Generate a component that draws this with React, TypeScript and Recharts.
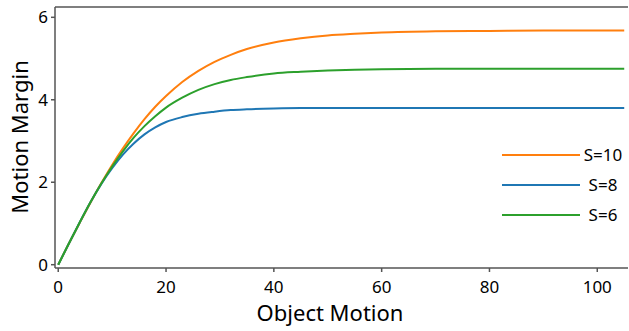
import React from 'react';
import { LineChart, Line, XAxis, YAxis, ReferenceLine } from 'recharts';

const xValues = [0, 2, 4, 6, 8, 10, 12, 14, 16, 18, 20, 23, 26, 29, 32, 35, 40, 45, 50, 55, 60, 70, 80, 90, 100, 105];
const s10 = [0, 0.52, 1.02, 1.51, 1.98, 2.42, 2.82, 3.19, 3.53, 3.83, 4.09, 4.43, 4.70, 4.92, 5.09, 5.23, 5.39, 5.49, 5.56, 5.60, 5.63, 5.66, 5.67, 5.68, 5.68, 5.68];
const s8 = [0, 0.52, 1.03, 1.52, 1.96, 2.34, 2.67, 2.94, 3.16, 3.33, 3.46, 3.58, 3.66, 3.71, 3.75, 3.77, 3.79, 3.80, 3.80, 3.80, 3.80, 3.80, 3.80, 3.80, 3.80, 3.80];
const s6 = [0, 0.52, 1.03, 1.52, 1.97, 2.38, 2.75, 3.08, 3.36, 3.60, 3.81, 4.05, 4.24, 4.38, 4.48, 4.55, 4.64, 4.68, 4.71, 4.73, 4.74, 4.75, 4.75, 4.75, 4.75, 4.75];

const xTicks = [0, 20, 40, 60, 80, 100];
const yTicks = [0, 2, 4, 6];
const yDomain: [number, number] = [-0.08, 6.25];
const xDomain: [number, number] = [-0.6, 105.7];

const seriesNames = ['S=10', 'S=8', 'S=6'];
const seriesKeys = ['s10', 's8', 's6'];
const seriesColors = ['#ff7f0e', '#1f77b4', '#2ca02c'];

const data = xValues.map((x, i) => ({ x, s10: s10[i], s8: s8[i], s6: s6[i] }));

const FONT = '"Comic Sans MS", "Noto Sans", sans-serif';
const AXIS = '#555555';

const LegendBox = () => (
  <svg width={129} height={80} style={{ display: 'block', overflow: 'visible' }}>
    {seriesNames.map((name, i) => (
      <g key={name}>
        <line x1={2} x2={80} y1={10 + i * 30} y2={10 + i * 30} stroke={seriesColors[i]} strokeWidth={2} />
        <text x={103} y={10 + i * 30} dy="0.35em" textAnchor="middle" fontSize={17} fontFamily={FONT} fill="#000">
          {name}
        </text>
      </g>
    ))}
  </svg>
);

export default function App() {
  return (
    <div style={{ position: 'absolute', left: 0, top: 0, width: 629, height: 331, background: '#fff' }}>
      <LineChart width={629} height={331} data={data} margin={{ top: 7, right: 1, bottom: 0, left: 0 }}>
        <XAxis
          type="number"
          dataKey="x"
          domain={xDomain}
          allowDataOverflow
          ticks={xTicks}
          height={63}
          tickSize={4}
          tickMargin={9}
          stroke={AXIS}
          strokeWidth={1.5}
          tick={{ fontSize: 17, fill: '#000', fontFamily: FONT }}
          label={{
            value: 'Object Motion',
            content: () => (
              <text x={330} y={321} textAnchor="middle" fontSize={22} fontFamily={FONT} fill="#000">
                Object Motion
              </text>
            ),
          }}
        />
        <YAxis
          type="number"
          domain={yDomain}
          allowDataOverflow
          ticks={yTicks}
          width={55}
          tickSize={4}
          tickMargin={3}
          stroke={AXIS}
          strokeWidth={1.5}
          tick={{ fontSize: 17, fill: '#000', fontFamily: FONT }}
          label={{
            value: 'Motion Margin',
            content: () => (
              <text x={20} y={137} transform="rotate(-90 20 137)" dy="0.35em" textAnchor="middle" fontSize={22} fontFamily={FONT} fill="#000">
                Motion Margin
              </text>
            ),
          }}
        />
        <ReferenceLine y={yDomain[1]} stroke={AXIS} strokeWidth={1.5} ifOverflow="visible" />
        {seriesKeys.map((k, i) => (
          <Line key={k} type="monotone" dataKey={k} name={seriesNames[i]} stroke={seriesColors[i]} strokeWidth={2} dot={false} activeDot={false} isAnimationActive={false} />
        ))}
      </LineChart>
      <div style={{ position: 'absolute', left: 500, top: 145, width: 129, height: 80 }}>
        <LegendBox />
      </div>
    </div>
  );
}
